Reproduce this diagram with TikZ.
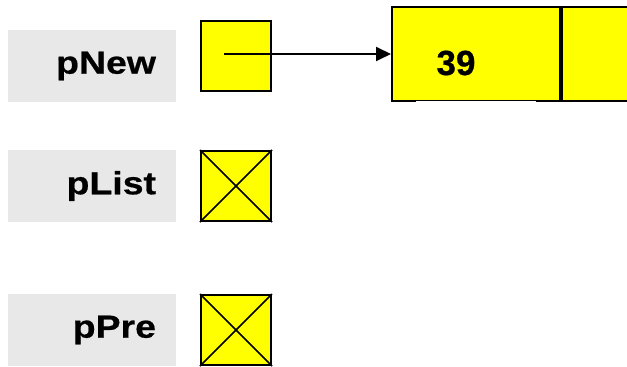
\documentclass[tikz,border=0pt]{standalone}
\usepackage{fontspec}
\setmainfont{Liberation Sans}[FakeStretch=1.17,FakeBold=0.6]
\newfontfamily\numfont{Liberation Sans}[FakeBold=0.6]
\usetikzlibrary{arrows.meta}
\definecolor{lblgray}{HTML}{E8E8E8}
\definecolor{ptryellow}{HTML}{FFFF00}
\tikzset{
  lblbox/.style={fill=lblgray, minimum width=168pt, minimum height=72pt, text width=128pt, inner xsep=20pt, align=right, font=\fontsize{32}{34}\selectfont\bfseries},
  ptrbox/.style={draw, line width=2pt, fill=ptryellow, minimum width=70pt, minimum height=70pt, inner sep=0pt},
  fieldbox/.style={draw, line width=2pt, fill=ptryellow, minimum height=94pt, inner sep=0pt},
  crossline/.style={line width=1.5pt},
  link/.style={line width=2pt, -{Triangle[length=15pt,width=14pt]}}
}
\begin{document}
\begin{tikzpicture}[x=1pt,y=-1pt]
\useasboundingbox (0,0) rectangle (627,367);
\clip (0,0) rectangle (627,367);
% labels
\node[lblbox] (lNew) at (92,66) {pNew};
\node[lblbox] (lList) at (92,186) {pList};
\node[lblbox] (lPre) at (92,330) {pPre};
% pointer boxes
\node[ptrbox] (bNew) at (236,56) {};
\node[ptrbox] (bList) at (236,186) {};
\node[ptrbox] (bPre) at (236,330) {};
\draw[crossline] (bList.north west) -- (bList.south east);
\draw[crossline] (bList.north east) -- (bList.south west);
\draw[crossline] (bPre.north west) -- (bPre.south east);
\draw[crossline] (bPre.north east) -- (bPre.south west);
% list node
\node[fieldbox, minimum width=168pt] (data) at (476,54) {};
\node[fieldbox, minimum width=110pt, anchor=west] (next) at (data.east) {};
\draw[white, line width=1.5pt] (416,102) -- (536,102);
\node[font=\numfont\fontsize{35}{38}\selectfont\bfseries] (val) at (456,63) {39};
% arrow
\coordinate (s) at (224,54);
\draw[link] (s) -- (data);
\end{tikzpicture}
\end{document}
